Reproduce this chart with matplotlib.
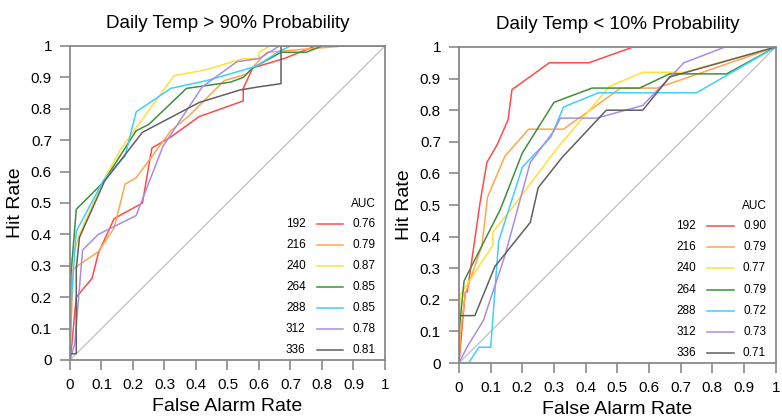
import matplotlib
matplotlib.use("Agg")
import matplotlib.pyplot as plt
import numpy as np

plt.rcParams['font.family'] = ['Liberation Sans', 'DejaVu Sans']

leads = ['192', '216', '240', '264', '288', '312', '336']
colors = ['#ff4a4a', '#ffa64d', '#ffdf3a', '#3f8f3f', '#3fcfff', '#a88de6', '#606060']

# left panel: Daily Temp > 90%
auc_hi = ['0.76', '0.79', '0.87', '0.85', '0.85', '0.78', '0.81']
far_hi = [
    [0, 0.003, 0.02, 0.07, 0.09, 0.14, 0.23, 0.26, 0.32, 0.41, 0.55, 0.55, 0.58, 0.68, 0.78, 1],
    [0, 0.005, 0.01, 0.09, 0.14, 0.175, 0.21, 0.32, 0.375, 0.49, 0.56, 0.625, 0.87, 1],
    [0, 0.003, 0.03, 0.105, 0.16, 0.33, 0.435, 0.55, 0.6, 0.6, 0.635, 1],
    [0, 0.003, 0.02, 0.105, 0.21, 0.25, 0.37, 0.51, 0.55, 0.58, 0.67, 0.75, 0.8, 1],
    [0, 0.003, 0.02, 0.105, 0.175, 0.21, 0.32, 0.435, 0.59, 0.66, 0.7, 1],
    [0, 0.015, 0.04, 0.09, 0.21, 0.295, 0.42, 0.53, 0.6, 0.665, 1],
    [0, 0, 0.02, 0.02, 0.03, 0.11, 0.23, 0.41, 0.54, 0.6, 0.67, 0.67, 1],
]
hit_hi = [
    [0, 0.02, 0.2, 0.26, 0.34, 0.45, 0.5, 0.675, 0.71, 0.775, 0.825, 0.865, 0.93, 0.96, 1, 1],
    [0, 0.15, 0.29, 0.345, 0.42, 0.56, 0.58, 0.73, 0.775, 0.89, 0.91, 0.98, 1, 1],
    [0, 0.31, 0.4, 0.57, 0.67, 0.905, 0.925, 0.96, 0.96, 0.98, 1, 1],
    [0, 0.27, 0.48, 0.565, 0.73, 0.75, 0.865, 0.885, 0.9, 0.93, 0.98, 0.98, 1, 1],
    [0, 0.17, 0.41, 0.57, 0.65, 0.79, 0.865, 0.89, 0.935, 0.98, 1, 1],
    [0, 0.05, 0.35, 0.4, 0.46, 0.68, 0.87, 0.95, 0.96, 1, 1],
    [0, 0.02, 0.02, 0.29, 0.39, 0.57, 0.725, 0.82, 0.86, 0.87, 0.88, 1, 1],
]

# right panel: Daily Temp < 10%
auc_lo = ['0.90', '0.79', '0.77', '0.79', '0.72', '0.73', '0.71']
far_lo = [
    [0, 0.01, 0.02, 0.026, 0.066, 0.088, 0.12, 0.155, 0.167, 0.23, 0.285, 0.41, 0.55, 1],
    [0, 0.005, 0.02, 0.072, 0.09, 0.145, 0.22, 0.33, 0.51, 0.625, 1],
    [0, 0.003, 0.107, 0.107, 0.167, 0.31, 0.475, 0.58, 0.71, 1],
    [0, 0, 0.016, 0.13, 0.2, 0.3, 0.42, 0.57, 0.665, 0.845, 1],
    [0, 0.03, 0.063, 0.1, 0.125, 0.2, 0.29, 0.33, 0.44, 0.75, 1],
    [0, 0.025, 0.077, 0.145, 0.225, 0.3, 0.32, 0.435, 0.58, 0.71, 0.84, 1],
    [0, 0, 0.05, 0.113, 0.225, 0.25, 0.325, 0.465, 0.58, 0.665, 1],
]
hit_lo = [
    [0, 0.12, 0.225, 0.225, 0.505, 0.635, 0.69, 0.77, 0.865, 0.91, 0.95, 0.95, 1, 1],
    [0, 0.1, 0.22, 0.37, 0.525, 0.655, 0.74, 0.74, 0.87, 0.87, 1],
    [0, 0.215, 0.373, 0.415, 0.49, 0.68, 0.875, 0.92, 0.92, 1],
    [0, 0.1, 0.26, 0.485, 0.665, 0.825, 0.87, 0.87, 0.915, 0.915, 1],
    [0, 0, 0.05, 0.05, 0.385, 0.62, 0.715, 0.81, 0.855, 0.855, 1],
    [0, 0.05, 0.135, 0.34, 0.635, 0.735, 0.775, 0.775, 0.815, 0.95, 1, 1],
    [0, 0.15, 0.15, 0.305, 0.445, 0.555, 0.65, 0.8, 0.8, 0.905, 1],
]

titles = ['Daily Temp > 90% Probability', 'Daily Temp < 10% Probability']

fig = plt.figure(figsize=(7.82, 4.2), dpi=100)
ax1 = fig.add_axes([0.0895, 0.1429, 0.4028, 0.7476])
ax2 = fig.add_axes([0.587, 0.1357, 0.405, 0.7524])

ticks = np.arange(0, 1.01, 0.1)
ticklabels = ['0'] + ['%.1f' % t for t in ticks[1:-1]] + ['1']

for ax, far, hit, auc, title in [(ax1, far_hi, hit_hi, auc_hi, titles[0]),
                                 (ax2, far_lo, hit_lo, auc_lo, titles[1])]:
    ax.plot([0, 1], [0, 1], color='#c4c4c4', lw=1.0)
    for i in range(len(leads)):
        ax.plot(far[i], hit[i], color=colors[i], lw=1.1)
    ax.set_xlim(0, 1)
    ax.set_ylim(0, 1)
    ax.set_xticks(ticks)
    ax.set_yticks(ticks)
    ax.set_xticklabels(ticklabels)
    ax.set_yticklabels(ticklabels)
    ax.tick_params(direction='out', length=7, width=1.2, color='#8a8a8a',
                   labelsize=11, pad=6)
    for sp in ax.spines.values():
        sp.set_color('#8a8a8a')
        sp.set_linewidth(1.3)
    ax.set_xlabel('False Alarm Rate', fontsize=14, labelpad=4)
    ax.set_ylabel('Hit Rate', fontsize=14, labelpad=5)
    ax.set_title(title, fontsize=13.5, pad=13)

    # legend table
    ax.text(0.933, 0.497, 'AUC', transform=ax.transAxes, fontsize=8.5,
            ha='center', va='center')
    for i in range(len(leads)):
        yy = 0.433 - i * 0.0669
        ax.text(0.717, yy, leads[i], transform=ax.transAxes, fontsize=8.5,
                ha='center', va='center')
        ax.plot([0.784, 0.867], [yy, yy], transform=ax.transAxes,
                color=colors[i], lw=1.1)
        ax.text(0.933, yy, auc[i], transform=ax.transAxes, fontsize=8.5,
                ha='center', va='center')

fig.savefig('out.png', dpi=100)
